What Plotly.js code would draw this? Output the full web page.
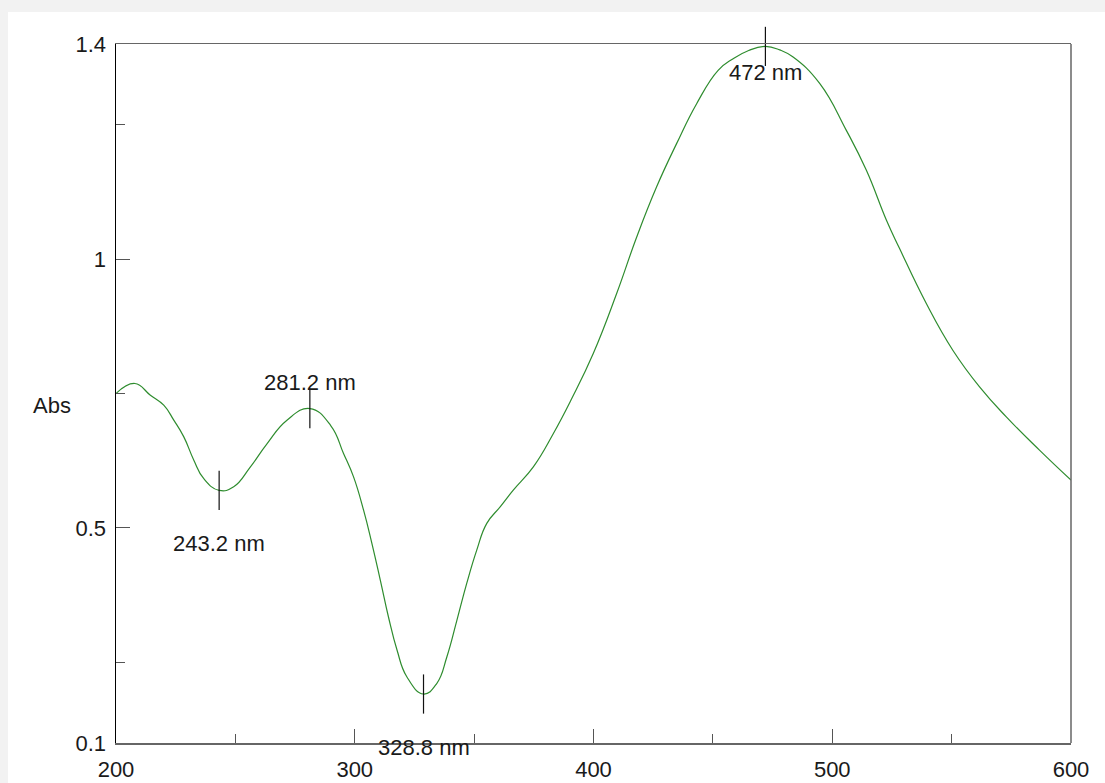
<!DOCTYPE html>
<html>
<head>
<meta charset="utf-8">
<script src="https://cdn.plot.ly/plotly-3.0.1.min.js"></script>
<style>
  html, body { margin: 0; padding: 0; background: #f2f2f2; }
  #chart { width: 1105px; height: 783px; }
</style>
</head>
<body>
<div id="chart"></div>
<script>
// Wavelength (nm) and absorbance
const wavelength = [200, 207.9, 214.4, 220.0, 224.2, 228.4, 232.6, 236.7, 243.2, 249.3, 256.3, 263.3, 271.6, 281.2, 290, 295.3, 299.5, 303.7, 307.2, 310.7, 314.1, 317.7, 321.8, 328.8, 334.4, 338.6, 342.8, 346.9, 351.1, 355.3, 360.9, 366.4, 374.8, 383.2, 390.9, 399.9, 409.7, 418.1, 426.4, 434.8, 443.2, 452.2, 458.5, 465, 472, 478, 483.6, 494.8, 505.9, 514.3, 522.7, 528.2, 539.4, 550.5, 561.7, 572.9, 586.8, 600];
const absorbance = [0.750, 0.7686, 0.7468, 0.7283, 0.7004, 0.6693, 0.626, 0.592, 0.5697, 0.5764, 0.6136, 0.657, 0.7004, 0.722, 0.690, 0.6385, 0.595, 0.533, 0.471, 0.403, 0.3348, 0.2729, 0.2232, 0.1911, 0.211, 0.2604, 0.3286, 0.3968, 0.4587, 0.5084, 0.5392, 0.5703, 0.6136, 0.6757, 0.7407, 0.8243, 0.9359, 1.0411, 1.134, 1.2147, 1.289, 1.351, 1.3727, 1.388, 1.3955, 1.389, 1.3757, 1.3262, 1.2394, 1.165, 1.0721, 1.0195, 0.9173, 0.8305, 0.7623, 0.7065, 0.6446, 0.5888];

// Picked peaks / valleys
const peakWavelength = [243.2, 281.2, 328.8, 472];
const peakAbsorbance = [0.5697, 0.722, 0.1911, 1.3955];
const peakLabels = ["243.2 nm", "281.2 nm", "328.8 nm", "472 nm"];
const peakLabelShift = [-53, 26, -53, -26];

// Axis ticks
const xTicks = [200, 300, 400, 500, 600];
const xMinorTicks = [250, 350, 450, 550];
const yTicks = [0.1, 0.5, 1, 1.4];
const yTickLabels = ["0.1", "0.5", "1", "1.4"];
const yMinorTicks = [0.25, 0.75, 1.25];

const FONT = "Liberation Sans, Arial, Helvetica, sans-serif";

const traces = [
  {
    x: wavelength, y: absorbance, type: "scatter", mode: "lines",
    line: { color: "rgb(46,140,46)", width: 1.2, shape: "spline", smoothing: 1.3 },
    hoverinfo: "x+y", showlegend: false
  },
  {
    x: peakWavelength, y: peakAbsorbance, type: "scatter", mode: "markers",
    marker: { symbol: "line-ns-open", size: 28, color: "#111", line: { width: 1.2, color: "#111" } },
    cliponaxis: false, hoverinfo: "skip", showlegend: false
  }
];

const annotations = peakLabels.map((t, i) => ({
  x: peakWavelength[i], y: peakAbsorbance[i], xref: "x", yref: "y",
  text: t, showarrow: false, xanchor: "center", yanchor: "middle",
  yshift: peakLabelShift[i],
  font: { family: FONT, size: 22, color: "#1a1a1a" }
}));
annotations.push({
  x: -0.067, y: 0.4835, xref: "paper", yref: "paper",
  text: "Abs", showarrow: false, xanchor: "center", yanchor: "middle",
  font: { family: FONT, size: 22, color: "#1a1a1a" }
});

const layout = {
  width: 1105, height: 783,
  margin: { l: 116, r: 34, t: 44, b: 40, pad: 0 },
  paper_bgcolor: "#f2f2f2",
  plot_bgcolor: "#ffffff",
  font: { family: FONT, size: 22, color: "#1a1a1a" },
  showlegend: false,
  xaxis: {
    range: [200, 600], tickmode: "array", tickvals: xTicks,
    ticks: "inside", ticklen: 14, tickwidth: 1, tickcolor: "#555",
    minor: { tickmode: "array", tickvals: xMinorTicks, ticks: "inside", ticklen: 9, tickwidth: 1, tickcolor: "#555", showgrid: false },
    showgrid: false, zeroline: false,
    showline: true, mirror: true, linecolor: "#666", linewidth: 1.5,
    ticklabelstandoff: 6,
    tickfont: { family: FONT, size: 22, color: "#1a1a1a" }
  },
  yaxis: {
    range: [0.1, 1.4], tickmode: "array", tickvals: yTicks, ticktext: yTickLabels,
    ticks: "inside", ticklen: 14, tickwidth: 1, tickcolor: "#555",
    minor: { tickmode: "array", tickvals: yMinorTicks, ticks: "inside", ticklen: 9, tickwidth: 1, tickcolor: "#555", showgrid: false },
    showgrid: false, zeroline: false,
    showline: true, mirror: false, linecolor: "#000", linewidth: 1.5,
    ticklabelstandoff: 4,
    tickfont: { family: FONT, size: 22, color: "#1a1a1a" }
  },
  shapes: [
    { type: "rect", xref: "paper", yref: "paper", x0: -0.1131, x1: 1.04, y0: -0.06, y1: 1.0458,
      fillcolor: "#ffffff", line: { width: 0 }, layer: "below" },
    { type: "line", xref: "paper", yref: "paper", x0: 1, x1: 1, y0: 0, y1: 1,
      line: { color: "#666", width: 1.5 } }
  ],
  annotations: annotations
};

Plotly.newPlot("chart", traces, layout, { displayModeBar: false, staticPlot: true });
</script>
</body>
</html>
